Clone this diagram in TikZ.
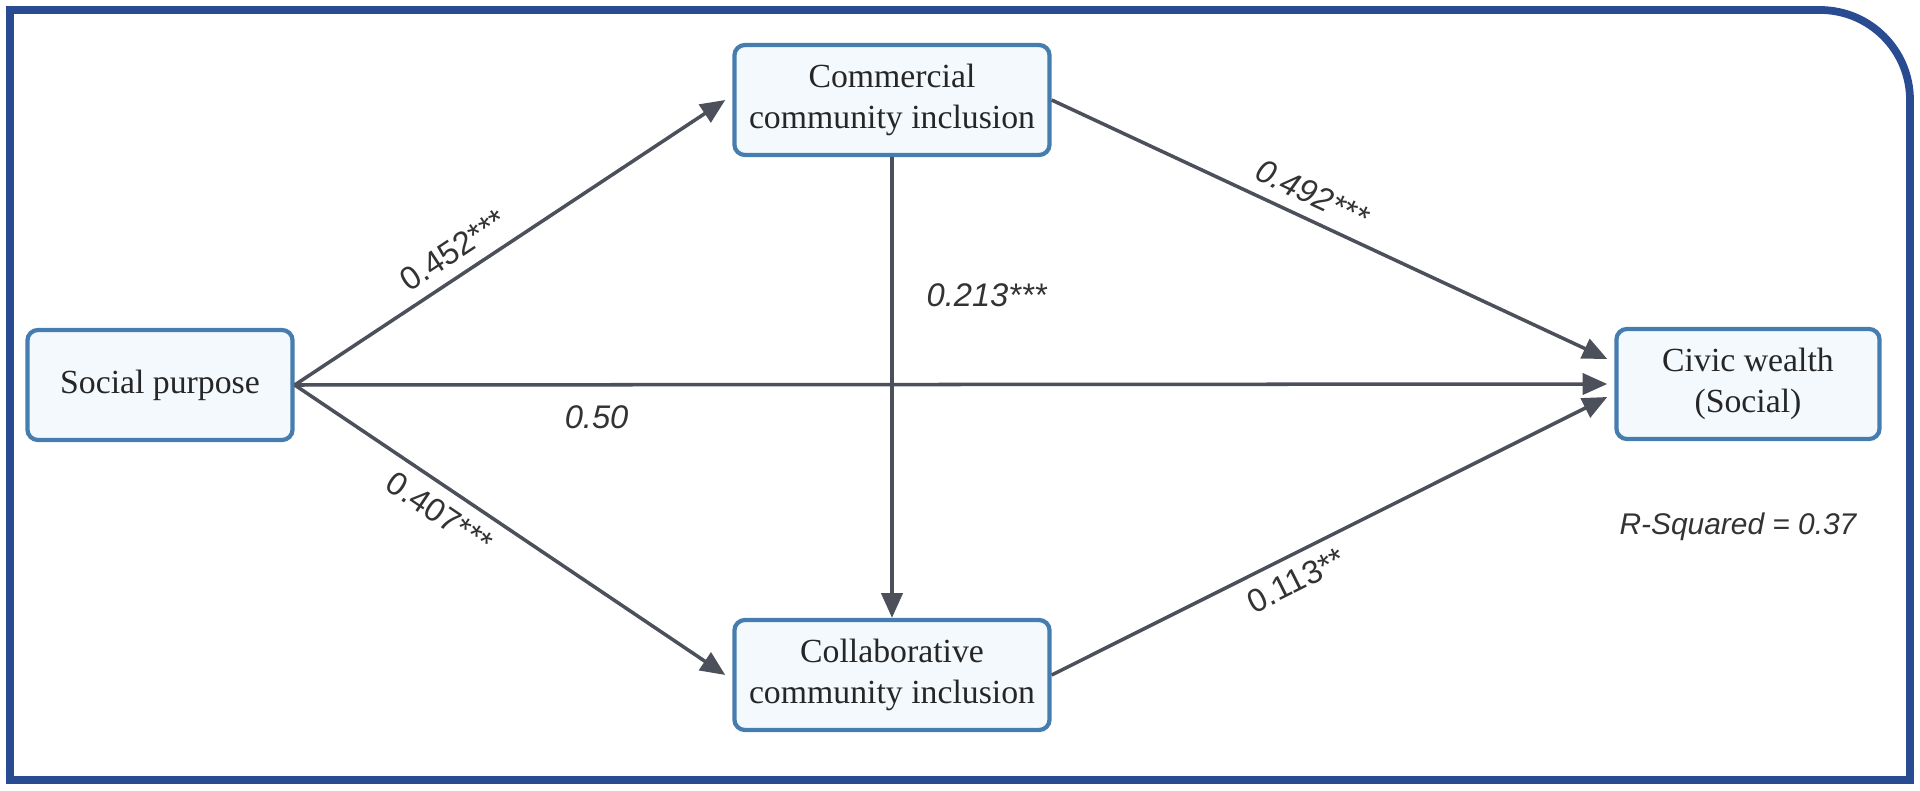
\documentclass[tikz,border=0pt]{standalone}
\usepackage{fontspec}
\setmainfont{Liberation Serif}
\newfontfamily\labfont{Liberation Sans}
\usetikzlibrary{arrows.meta}
\definecolor{framecol}{RGB}{40,75,145}
\definecolor{boxline}{RGB}{70,125,175}
\definecolor{boxfill}{RGB}{244,249,253}
\definecolor{arrowcol}{RGB}{75,80,90}
\tikzset{
box/.style={
  draw=boxline, fill=boxfill, line width=1.2pt, rounded corners=3pt,
  minimum width=3.15cm, minimum height=1.1cm, align=center,
  font=\fontsize{9.6}{11.5}\selectfont, text=black!85
},
effect/.style={draw=arrowcol, line width=1pt, -{Triangle[length=7pt,width=6pt]}},
coef/.style={font=\labfont\fontsize{9.3}{11}\selectfont, text=black!80},
}
\begin{document}
\begin{tikzpicture}[x=0.01cm,y=-0.01cm]
\useasboundingbox (0,0) rectangle (1920,791);
% the frame
\draw[framecol, line width=2.2pt]
  (10,10) -- (1820,10) arc[start angle=270,end angle=360,radius=90] -- (1910,780) -- (10,780) -- cycle;
% the boxes
\node[box, minimum width=2.65cm] (sp) at (160,385) {Social purpose};
\node[box] (com) at (892,100) {Commercial\\community inclusion};
\node[box] (col) at (892,675) {Collaborative\\community inclusion};
\node[box, minimum width=2.63cm] (cw) at (1748,384) {Civic wealth\\(Social)};
% the paths
\draw[effect] (sp.east) -- node[coef, sloped, above, pos=0.4] {0.452***} ([xshift=-2pt]com.west);
\draw[effect] (sp.east) -- node[coef, sloped, below, pos=0.37] {0.407***} ([xshift=-2pt]col.west);
\draw[effect] (sp.east) -- node[coef, below=2pt, pos=0.23] {\itshape 0.50} ([xshift=-2pt]cw.west);
\draw[effect] (com.south) -- node[coef, right=6pt, pos=0.3] {\itshape 0.213***} (col.north);
\draw[effect] (com.east) -- node[coef, sloped, above, pos=0.45] {\itshape 0.492***} ([xshift=-2pt,yshift=2.5mm]cw.west);
\draw[effect] (col.east) -- node[coef, sloped, below, pos=0.42] {0.113**} ([xshift=-2pt,yshift=-1.3mm]cw.west);
\node[coef, font=\labfont\itshape\fontsize{8.5}{10}\selectfont] (rsq) at (1738,527) {R-Squared = 0.37};
\end{tikzpicture}
\end{document}
